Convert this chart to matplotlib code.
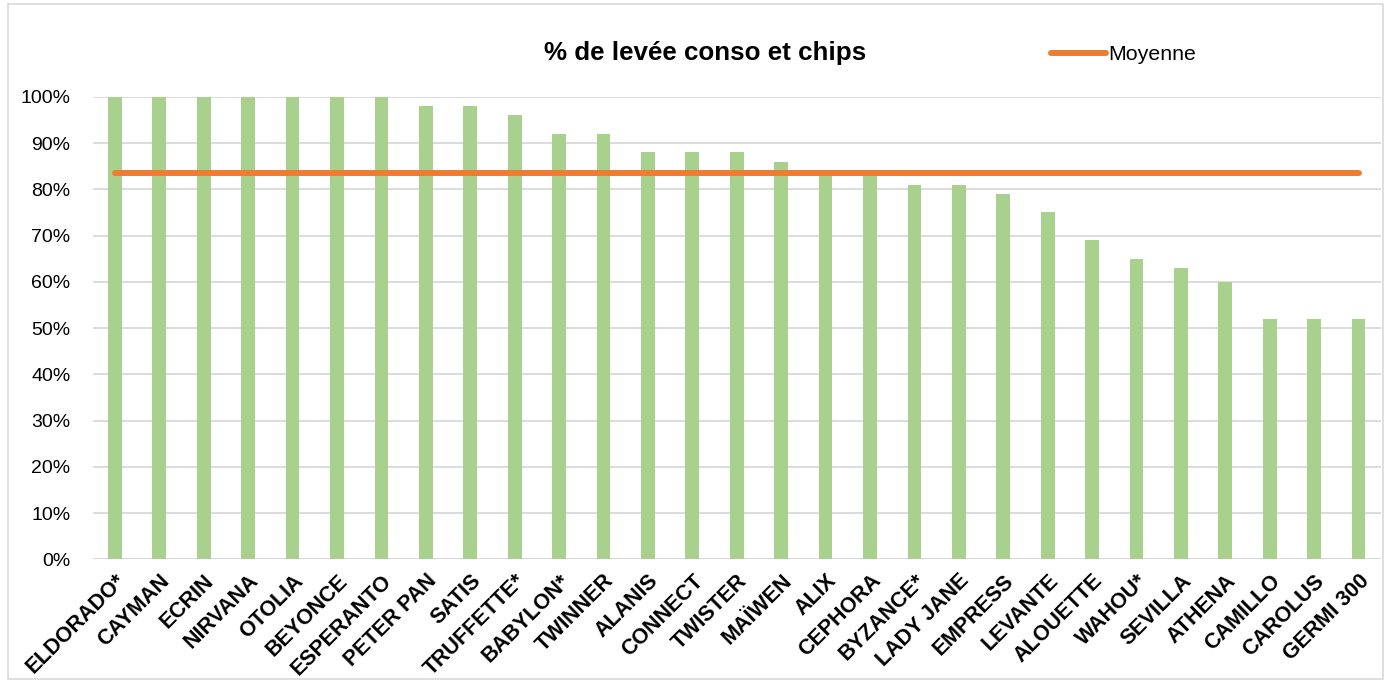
import numpy as np
import matplotlib.pyplot as plt
from matplotlib.patches import Rectangle
from matplotlib.lines import Line2D
from matplotlib.ticker import PercentFormatter

plt.rcParams['font.family'] = ['Liberation Sans', 'DejaVu Sans']

varietes = ['ELDORADO*', 'CAYMAN', 'ECRIN', 'NIRVANA', 'OTOLIA', 'BEYONCE',
            'ESPERANTO', 'PETER PAN', 'SATIS', 'TRUFFETTE*', 'BABYLON*', 'TWINNER',
            'ALANIS', 'CONNECT', 'TWISTER', 'MAÏWEN', 'ALIX', 'CEPHORA', 'BYZANCE*',
            'LADY JANE', 'EMPRESS', 'LEVANTE', 'ALOUETTE', 'WAHOU*', 'SEVILLA',
            'ATHENA', 'CAMILLO', 'CAROLUS', 'GERMI 300']
levee = [100, 100, 100, 100, 100, 100, 100, 98, 98, 96, 92, 92,
         88, 88, 88, 86, 84, 84, 81, 81, 79, 75, 69, 65, 63,
         60, 52, 52, 52]
moyenne = 83.5

fig = plt.figure(figsize=(13.94, 6.82), dpi=100)
ax = fig.add_axes([0.0665, 0.18, 0.924, 0.678])

x = np.arange(len(varietes))
ax.bar(x, levee, width=0.31, color='#a9d18e', zorder=2)
ax.plot([x[0], x[-1]], [moyenne, moyenne], color='#ed7d31', lw=4.3,
        solid_capstyle='round', zorder=3)

ax.set_xlim(-0.5, len(varietes) - 0.5)
ax.set_ylim(0, 100)
ax.set_yticks(np.arange(0, 101, 10))
ax.yaxis.set_major_formatter(PercentFormatter(decimals=0))
ax.grid(axis='y', color='#d9d9d9', lw=1.3, zorder=0)
ax.tick_params(axis='y', length=0, labelsize=14, pad=16)
ax.tick_params(axis='x', length=0, pad=8)
for s in ax.spines.values():
    s.set_visible(False)
ax.axhline(0, color='#d9d9d9', lw=1.3, zorder=1)

ax.set_xticks(x)
ax.set_xticklabels(varietes, rotation=45, ha='right', rotation_mode='anchor',
                   fontsize=15.5, fontweight='bold')

fig.text(0.506, 0.922, '% de levée conso et chips', ha='center', va='center',
         fontsize=18.7, fontweight='bold')

leg = [Line2D([0], [0], color='#ed7d31', lw=4.3, solid_capstyle='round')]
fig.legend(leg, ['Moyenne'], loc='center left', bbox_to_anchor=(0.74, 0.92),
           frameon=False, fontsize=15.4, handlelength=2.6, handletextpad=0.1)

fig.patches.append(Rectangle((0.006, 0.004), 0.986, 0.99, transform=fig.transFigure,
                             fill=False, edgecolor='#d9d9d9', lw=1.2))

fig.savefig('out.png', dpi=100)
